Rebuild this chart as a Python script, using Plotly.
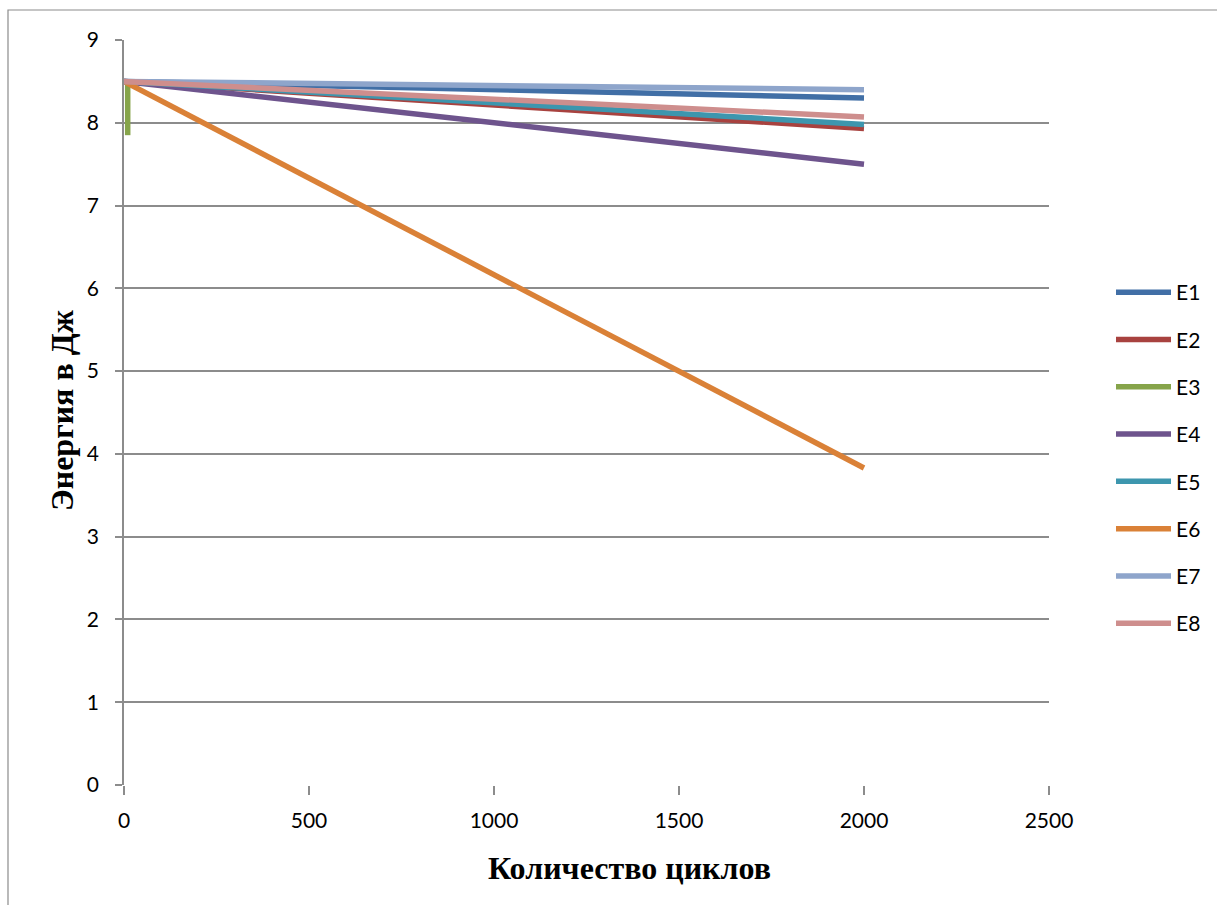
import plotly.graph_objects as go

# Energy vs number of cycles for eight series
series_names = ["E1", "E2", "E3", "E4", "E5", "E6", "E7", "E8"]
cycles = {
    "E1": [0, 2000],
    "E2": [0, 2000],
    "E3": [10, 10],
    "E4": [0, 2000],
    "E5": [0, 2000],
    "E6": [0, 2000],
    "E7": [0, 2000],
    "E8": [0, 2000],
}
energy = {
    "E1": [8.5, 8.3],
    "E2": [8.5, 7.93],
    "E3": [8.5, 7.85],
    "E4": [8.5, 7.5],
    "E5": [8.5, 7.98],
    "E6": [8.5, 3.83],
    "E7": [8.5, 8.4],
    "E8": [8.5, 8.07],
}
colors = {
    "E1": "#416FA6",
    "E2": "#A8423F",
    "E3": "#86A44A",
    "E4": "#6E548D",
    "E5": "#3D96AE",
    "E6": "#DA8137",
    "E7": "#8EA5CB",
    "E8": "#CE8E8D",
}
x_ticks = [0, 500, 1000, 1500, 2000, 2500]
y_ticks = [0, 1, 2, 3, 4, 5, 6, 7, 8, 9]

W, H = 1217, 905
plot_left, plot_right = 124, 1049
plot_top, plot_bottom = 40, 785

fig = go.Figure()
for name in series_names:
    fig.add_trace(go.Scatter(
        x=cycles[name], y=energy[name], name=name, mode="lines",
        line=dict(color=colors[name], width=5.5),
        legendgroup=name,
    ))

tick_font = dict(family="Lato, Open Sans, sans-serif", size=21, color="#000000")
title_font = dict(family="Liberation Serif, serif", size=32, color="#000000")

fig.update_layout(
    width=W, height=H,
    margin=dict(l=0, r=0, t=0, b=0, autoexpand=False),
    paper_bgcolor="white", plot_bgcolor="white",
    showlegend=True,
    legend=dict(
        x=1111 / W, y=1 - 272 / H, xanchor="left", yanchor="top",
        font=tick_font, tracegroupgap=17, traceorder="grouped",
        itemwidth=55,
        bgcolor="rgba(0,0,0,0)",
    ),
    xaxis=dict(
        domain=[plot_left / W, plot_right / W],
        range=[0, 2500], tickvals=x_ticks,
        showgrid=False, zeroline=False,
        showline=False,
        ticks="outside", ticklen=9, tickcolor="#8c8c8c", tickwidth=1.5,
        ticklabelstandoff=8,
        tickfont=tick_font,
    ),
    yaxis=dict(
        domain=[1 - plot_bottom / H, 1 - plot_top / H],
        range=[0, 9], tickvals=y_ticks,
        showgrid=True, gridcolor="#8c8c8c", gridwidth=1.5,
        zeroline=False,
        showline=True, linecolor="#8c8c8c", linewidth=1.5,
        ticks="outside", ticklen=7, tickcolor="#8c8c8c", tickwidth=1.5,
        ticklabelstandoff=12,
        tickfont=tick_font,
    ),
    annotations=[
        dict(text="<b>Количество циклов</b>", x=629 / W, y=1 - 868 / H,
             xref="paper", yref="paper", showarrow=False, font=title_font,
             xanchor="center", yanchor="middle"),
        dict(text="<b>Энергия в Дж</b>", x=62 / W, y=1 - 410 / H,
             xref="paper", yref="paper", showarrow=False, font=title_font,
             textangle=-90, xanchor="center", yanchor="middle"),
    ],
    shapes=[
        dict(type="rect", xref="paper", yref="paper",
             x0=8 / W, x1=1.02, y0=-0.02, y1=1 - 10 / H,
             line=dict(color="#8c8c8c", width=1.2), layer="below"),
    ],
)

fig.write_html("out.html")
